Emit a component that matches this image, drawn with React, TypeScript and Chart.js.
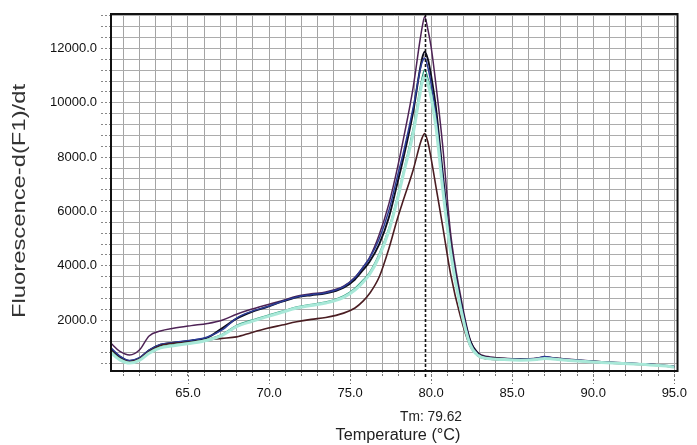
import React, { useEffect, useRef } from "react";
import { Chart, registerables } from "chart.js";

Chart.register(...registerables);

// Temperature samples (°C)
const temps = [60.25, 60.8, 61.4, 62.0, 62.6, 63.3, 64.1, 65.2, 66.2, 67.1, 68.0, 68.9, 69.9, 70.8, 71.7, 72.6, 73.5, 74.6, 75.3, 75.8, 76.2, 76.8, 77.4, 77.9, 78.3, 78.9, 79.3, 79.45, 79.6, 79.8, 80.0, 80.3, 80.7, 81.2, 81.8, 82.4, 82.9, 83.5, 84.5, 85.5, 86.5, 87.0, 87.5, 88.5, 89.5, 90.5, 91.5, 92.5, 93.5, 94.5, 95.0];

// -d(F1)/dt series
const purpleSeries = [1150, 850, 720, 900, 1420, 1600, 1700, 1800, 1880, 2000, 2220, 2400, 2570, 2720, 2880, 2970, 3040, 3250, 3580, 3950, 4300, 5150, 6300, 7550, 8700, 10600, 12250, 12800, 13170, 12700, 12050, 10650, 8500, 5200, 2950, 1300, 800, 660, 600, 580, 600, 650, 620, 560, 520, 470, 440, 410, 380, 330, 300];
const blackSeries = [950, 650, 500, 600, 890, 1100, 1170, 1250, 1360, 1700, 2060, 2300, 2490, 2680, 2840, 2920, 2985, 3200, 3500, 3850, 4150, 4800, 5800, 7000, 8000, 9700, 11200, 11650, 11880, 11600, 11000, 9800, 7500, 4800, 2750, 1250, 760, 620, 580, 560, 580, 630, 600, 540, 500, 460, 430, 400, 370, 320, 290];
const blueSeries = [980, 680, 520, 620, 900, 1110, 1180, 1260, 1380, 1640, 2080, 2320, 2500, 2690, 2850, 2940, 3010, 3230, 3560, 3950, 4280, 5000, 6050, 7250, 8200, 9850, 11150, 11500, 11650, 11300, 10700, 9500, 7300, 4700, 2700, 1200, 740, 610, 570, 560, 590, 660, 610, 550, 505, 465, 435, 405, 375, 325, 295];
const greenSeries = [850, 580, 440, 540, 820, 1020, 1100, 1180, 1290, 1480, 1815, 2000, 2180, 2330, 2490, 2580, 2670, 2900, 3180, 3480, 3760, 4450, 5400, 6500, 7500, 9100, 10500, 10950, 11230, 10900, 10400, 9300, 7100, 4600, 2600, 1150, 720, 600, 560, 540, 560, 600, 580, 530, 490, 450, 420, 390, 360, 315, 285];
const cyanSeries = [800, 540, 420, 520, 780, 980, 1060, 1150, 1260, 1440, 1760, 1950, 2130, 2290, 2450, 2540, 2630, 2840, 3110, 3400, 3680, 4350, 5300, 6400, 7400, 8900, 10300, 10750, 11000, 10700, 10200, 9100, 6900, 4500, 2500, 1100, 700, 590, 550, 530, 550, 590, 570, 520, 480, 445, 415, 385, 355, 310, 280];
const brownSeries = [880, 600, 470, 570, 850, 1060, 1150, 1200, 1280, 1330, 1385, 1540, 1700, 1820, 1940, 2030, 2100, 2260, 2450, 2700, 2980, 3600, 4650, 5700, 6450, 7550, 8450, 8720, 8870, 8550, 7950, 6900, 5500, 3700, 2150, 1050, 680, 570, 540, 530, 550, 590, 570, 520, 480, 440, 410, 380, 350, 305, 275];

// Axis ticks
const xTicks = [61, 62, 63, 64, 65, 66, 67, 68, 69, 70, 71, 72, 73, 74, 75, 76, 77, 78, 79, 80, 81, 82, 83, 84, 85, 86, 87, 88, 89, 90, 91, 92, 93, 94, 95];
const xLabelTicks = [65, 70, 75, 80, 85, 90, 95];
const yLabelTicks = [2000, 4000, 6000, 8000, 10000, 12000];
const yGridStep = 400;

const TM = 79.62;
const xTitle = "Temperature (°C)";
const yTitle = "Fluorescence-d(F1)/dt";
const tmLabel = "Tm: 79.62";

const FONT = '"Liberation Sans", Arial, sans-serif';

function toPoints(vals: number[]) {
  return temps.map((t, i) => ({ x: t, y: vals[i] }));
}

const overlayPlugin = {
  id: "overlay",
  afterDatasetsDraw(chart: any) {
    const { ctx, chartArea, scales } = chart;
    const xs = scales.x;
    ctx.save();
    // Tm dashed line
    const tx = Math.round(xs.getPixelForValue(TM)) + 0.5;
    ctx.strokeStyle = "#111";
    ctx.lineWidth = 1.6;
    ctx.setLineDash([3, 2]);
    ctx.beginPath();
    ctx.moveTo(tx, chartArea.top);
    ctx.lineTo(tx, chartArea.bottom + 8);
    ctx.stroke();
    // Major tick extensions
    ctx.lineWidth = 1;
    ctx.strokeStyle = "#777";
    ctx.setLineDash([2, 2]);
    xLabelTicks.forEach((v) => {
      const px = Math.round(xs.getPixelForValue(v)) + 0.5;
      ctx.beginPath();
      ctx.moveTo(px, chartArea.bottom);
      ctx.lineTo(px, chartArea.bottom + 13);
      ctx.stroke();
    });
    ctx.setLineDash([]);
    // Frame
    ctx.strokeStyle = "#111";
    ctx.lineWidth = 2;
    ctx.strokeRect(chartArea.left, chartArea.top, chartArea.right - chartArea.left, chartArea.bottom - chartArea.top);
    ctx.restore();
  },
  afterDraw(chart: any) {
    const { ctx } = chart;
    ctx.save();
    ctx.fillStyle = "#222";
    ctx.textAlign = "center";
    ctx.textBaseline = "middle";
    // y title
    ctx.save();
    ctx.translate(20, 201);
    ctx.rotate(-Math.PI / 2);
    ctx.font = `18px ${FONT}`;
    const wy = ctx.measureText(yTitle).width;
    ctx.scale(234 / wy, 1);
    ctx.fillStyle = "#333";
    ctx.fillText(yTitle, 0, 0);
    ctx.restore();
    // x title
    ctx.save();
    ctx.translate(398, 436);
    ctx.font = `16px ${FONT}`;
    const wx = ctx.measureText(xTitle).width;
    ctx.scale(125 / wx, 1);
    ctx.fillText(xTitle, 0, 0);
    ctx.restore();
    // Tm label
    ctx.save();
    ctx.translate(431, 417);
    ctx.font = `14px ${FONT}`;
    const wt = ctx.measureText(tmLabel).width;
    ctx.scale(62 / wt, 1);
    ctx.fillText(tmLabel, 0, 0);
    ctx.restore();
    ctx.restore();
  },
};

export default function App() {
  const ref = useRef<HTMLCanvasElement | null>(null);

  useEffect(() => {
    if (!ref.current) return;
    const mk = (data: number[], color: string, width: number) => ({
      data: toPoints(data),
      borderColor: color,
      borderWidth: width,
      pointRadius: 0,
      fill: false,
      cubicInterpolationMode: "monotone" as const,
    });
    const chart = new Chart(ref.current, {
      type: "line",
      data: {
        datasets: [
          mk(cyanSeries, "#a8e8d8", 3),
          mk(greenSeries, "#2f9c7c", 1.3),
          mk(brownSeries, "#4a1d22", 1.6),
          mk(blueSeries, "#2c3c96", 1.5),
          mk(blackSeries, "#0e0e1e", 1.9),
          mk(purpleSeries, "#4e2356", 1.5),
        ],
      },
      options: {
        animation: false,
        responsive: false,
        devicePixelRatio: 1,
        layout: { padding: { left: 0, right: 10, top: 14, bottom: 0 } },
        plugins: {
          legend: { display: false },
          tooltip: { enabled: false },
          title: { display: false },
        },
        scales: {
          x: {
            type: "linear",
            min: 60.25,
            max: 95.2,
            afterBuildTicks: (s: any) => {
              s.ticks = xTicks.map((v) => ({ value: v }));
            },
            afterFit: (s: any) => {
              s.height = 74;
            },
            ticks: {
              autoSkip: false,
              maxRotation: 0,
              padding: 10,
              color: "#111",
              font: { family: FONT, size: 13 },
              callback: (v: any) => (xLabelTicks.includes(Number(v)) ? Number(v).toFixed(1) : ""),
            },
            grid: {
              color: "#a4a4a4",
              lineWidth: 1,
              tickLength: 5,
              tickColor: "#777",
              tickBorderDash: [2, 1],
            },
            border: { display: false },
          },
          y: {
            type: "linear",
            min: 130,
            max: 13270,
            afterBuildTicks: (s: any) => {
              const arr: any[] = [];
              for (let v = yGridStep; v <= 13200; v += yGridStep) arr.push({ value: v });
              s.ticks = arr;
            },
            afterFit: (s: any) => {
              s.width = 111;
            },
            ticks: {
              autoSkip: false,
              padding: 4,
              color: "#111",
              font: { family: FONT, size: 13 },
              callback: (v: any) => (yLabelTicks.includes(Number(v)) ? Number(v).toFixed(1) : ""),
            },
            grid: {
              color: "#acacac",
              lineWidth: 1,
              tickLength: 10,
              tickColor: "#888",
              tickBorderDash: [2, 2],
            },
            border: { display: false },
          },
        },
      },
      plugins: [overlayPlugin],
    });
    return () => chart.destroy();
  }, []);

  return (
    <div style={{ position: "fixed", left: 0, top: 0, width: 697, height: 445, background: "#fff" }}>
      <canvas ref={ref} width={697} height={445} style={{ width: 697, height: 445 }} />
    </div>
  );
}
